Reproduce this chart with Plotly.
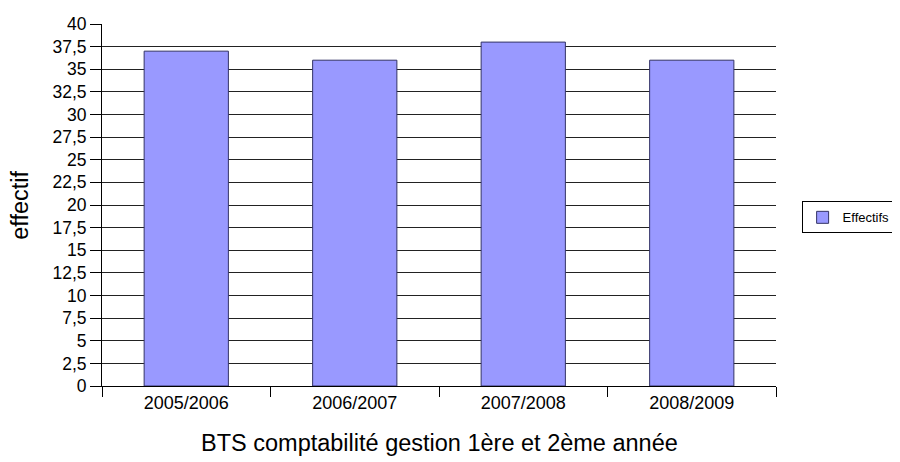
import plotly.graph_objects as go

categories = ["2005/2006", "2006/2007", "2007/2008", "2008/2009"]
effectifs = [37, 36, 38, 36]
y_ticks = [i * 2.5 for i in range(17)]
y_ticktext = [("%g" % v).replace(".", ",") for v in y_ticks]

fig = go.Figure()
fig.add_trace(go.Bar(
    x=categories, y=effectifs, name="Effectifs",
    marker=dict(color="#9999FF", line=dict(color="#333366", width=1)),
    width=0.5,
))

fig.update_layout(
    width=892, height=454,
    margin=dict(l=94, r=124, t=16, b=76, autoexpand=False),
    paper_bgcolor="white", plot_bgcolor="white",
    font=dict(family="Liberation Sans, Arial, sans-serif", color="black", size=17),
    showlegend=True,
    legend=dict(x=1.038, y=0.51, xanchor="left", yanchor="top",
                bordercolor="black", borderwidth=1, bgcolor="white",
                font=dict(size=13), itemwidth=30, tracegroupgap=0),
    xaxis=dict(
        showline=True, linecolor="black", linewidth=1,
        ticks="outside", ticklen=10, tickcolor="black", tickson="boundaries",
        tickfont=dict(size=18), showgrid=False, mirror=False,
    ),
    yaxis=dict(
        range=[0, 40], tickvals=y_ticks, ticktext=y_ticktext,
        showline=True, linecolor="black", linewidth=1,
        ticks="outside", ticklen=11, tickcolor="black",
        showgrid=True, gridcolor="#222222", gridwidth=1,
        tickfont=dict(size=17.5), zeroline=False,
    ),
    annotations=[
        dict(text="BTS comptabilité gestion 1ère et 2ème année", xref="paper", yref="paper",
             x=0.5, y=-0.157, xanchor="center", yanchor="middle", showarrow=False,
             font=dict(size=23.5)),
        dict(text="effectif", xref="paper", yref="paper", textangle=-90,
             x=-0.122, y=0.5, xanchor="center", yanchor="middle", showarrow=False,
             font=dict(size=23.5)),
    ],
    bargap=0.5,
)

fig.write_html("out.html")
